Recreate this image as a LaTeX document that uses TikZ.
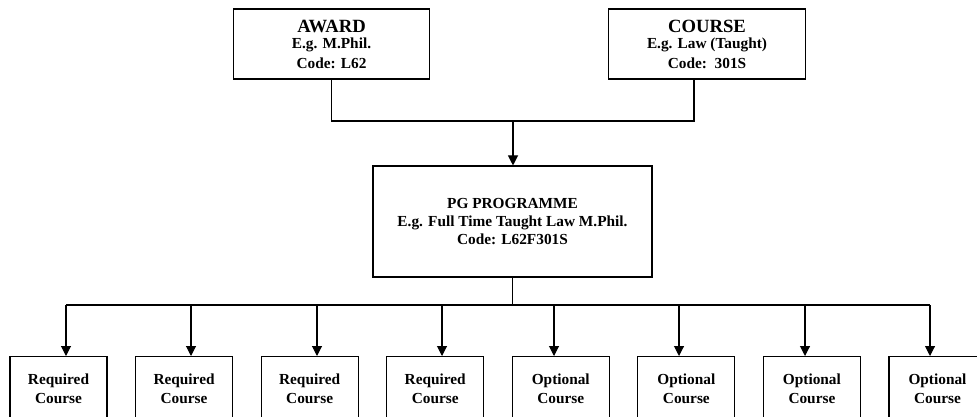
\documentclass[tikz,border=0pt]{standalone}
\usepackage{fontspec}
\setmainfont{Liberation Serif}
\usetikzlibrary{arrows.meta}
\tikzset{>={Triangle[width=7.5pt,length=7.5pt]}}
\tikzset{
  box/.style={draw, line width=0.8pt, align=center, font=\bfseries\fontsize{11.5}{15}\selectfont},
  topbox/.style={box, minimum width=147.5pt, minimum height=52.5pt},
  pgbox/.style={box, minimum width=209.25pt, minimum height=83.25pt, font=\bfseries\fontsize{11.5}{13.5}\selectfont},
  modbox/.style={box, anchor=north, minimum width=72.75pt, minimum height=48pt, font=\bfseries\fontsize{11.5}{14}\selectfont},
  link/.style={line width=0.8pt}
}

\begin{document}
\begin{tikzpicture}[x=0.75pt, y=-0.75pt]

\path[use as bounding box, clip] (0,0) rectangle (977,417);

% Award and course
\node[topbox] (award) at (331.5,44) {{\fontsize{14}{16}\selectfont AWARD}\\[-3pt] E.g. M.Phil.\\ Code: L62};
\node[topbox] (course) at (707,44) {{\fontsize{14}{16}\selectfont COURSE}\\[-3pt] E.g. Law (Taught)\\ Code:\ \ 301S};

% Programme
\node[pgbox] (pg) at (512.5,221.5) {PG PROGRAMME\\ E.g. Full Time Taught Law M.Phil.\\ Code: L62F301S};

\coordinate (join) at (513,121);
\draw[link] (award.south) |- (join) -| ([xshift=-9.75pt]course.south);
\draw[link, ->] (join) -- (join |- pg.north);

% Courses of the programme
\foreach \i/\kind/\ax in {1/Required/66, 2/Required/191, 3/Required/317, 4/Required/442,
                          5/Optional/554, 6/Optional/679, 7/Optional/805, 8/Optional/930} {
  \node[modbox] (mod\i) at ({58.5+125.57*(\i-1)},356) {\kind\\ Course};
  \coordinate (drop\i) at (\ax,305);
  \draw[link, ->] (drop\i) -- (drop\i |- mod\i.north);
}
\draw[link] (drop1) -- (drop8);
\draw[link] (pg.south) -- (pg.south |- drop1);

\end{tikzpicture}
\end{document}
